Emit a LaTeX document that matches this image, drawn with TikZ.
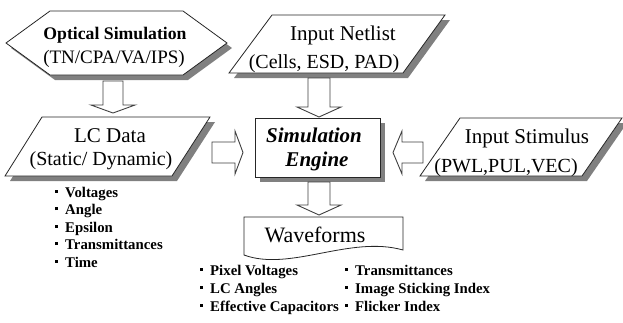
\documentclass[tikz,border=0pt]{standalone}
\usepackage{fontspec}
\setmainfont{Liberation Serif}
\usetikzlibrary{shadows}
\newcommand\sqbul{\rule[0.3em]{3pt}{3pt}\hspace{7pt}}
\newcommand\dnarrow[5]{%
  \draw[blockarrow] (#1-#5,#2) -- (#1+#5,#2) -- (#1+#5,#3) -- (#1+22,#3) -- (#1,#4) -- (#1-22,#3) -- (#1-#5,#3) -- cycle;}
\newcommand\sidearrow[5]{%
  \draw[blockarrow] (#2,#1-#5) -- (#3,#1-#5) -- (#3,#1-21.5) -- (#4,#1) -- (#3,#1+21.5) -- (#3,#1+#5) -- (#2,#1+#5) -- cycle;}
\begin{document}
\begin{tikzpicture}[x=1pt,y=-1pt,
  shapebox/.style={draw=black!85, line width=0.8pt, fill=white,
    drop shadow={shadow xshift=5pt, shadow yshift=-5pt, fill=black!50, opacity=1}},
  plainbox/.style={draw=black!85, line width=0.8pt, fill=white},
  blockarrow/.style={draw=black!75, line width=0.9pt, fill=white},
  maintext/.style={font=\fontsize{21}{21}\selectfont, anchor=base, inner sep=0pt},
  subtext/.style={font=\fontsize{20}{20}\selectfont, anchor=base, inner sep=0pt},
  boldtext/.style={font=\fontsize{17.7}{17.7}\selectfont\bfseries, anchor=base, inner sep=0pt},
  enginetext/.style={font=\fontsize{21}{21}\selectfont\bfseries\itshape, anchor=base, inner sep=0pt},
  itemtext/.style={font=\fontsize{14.8}{14.8}\selectfont\bfseries, anchor=base west, inner sep=0pt}]
\useasboundingbox[fill=white] (0,0) rectangle (623,322);

% Optical Simulation (hexagon)
\draw[shapebox] (6,43) -- (50,11) -- (183,11) -- (227,43) -- (183,75) -- (50,75) -- cycle;
\node[boldtext] (opt1) at (115,39) {Optical Simulation};
\node[subtext, font=\fontsize{19}{19}\selectfont] (opt2) at (114,63) {(TN/CPA/VA/IPS)};

% Input Netlist
\draw[shapebox] (272,15) -- (445,15) -- (403,73) -- (229,73) -- cycle;
\node[maintext] (net1) at (343,40) {Input Netlist};
\node[subtext] (net2) at (324,68) {(Cells, ESD, PAD)};

% LC Data
\draw[shapebox] (42,117) -- (210,117) -- (172,176) -- (5,176) -- cycle;
\node[maintext] (lc1) at (110,142) {LC Data};
\node[subtext] (lc2) at (101,165) {(Static/ Dynamic)};

% Simulation Engine
\draw[shapebox] (255,118) rectangle (380,177);
\node[enginetext] (eng1) at (314,142) {Simulation};
\node[enginetext] (eng2) at (317,166) {Engine};

% Input Stimulus
\draw[shapebox] (460,118) -- (622,118) -- (582,176) -- (420,176) -- cycle;
\node[maintext] (stim1) at (527,143) {Input Stimulus};
\node[subtext] (stim2) at (506,172) {(PWL,PUL,VEC)};

% Waveforms (document shape)
\draw[plainbox] (244,255) -- (244,217) -- (403,217) -- (403,250)
  .. controls (350,235) and (290,272) .. (244,255) -- cycle;
\node[maintext, font=\fontsize{22}{22}\selectfont] (wave) at (315,242) {Waveforms};

% Block arrows
\dnarrow{113}{81}{105}{113}{10}
\dnarrow{319}{78}{107}{117}{11}
\dnarrow{319}{182}{205}{215}{11}
\sidearrow{152.5}{212}{235}{243}{10.5}
\sidearrow{152.5}{423}{402}{393}{10.5}

% LC Data items
\node[itemtext] (li1) at (55,197) {\sqbul Voltages};
\node[itemtext] (li2) at (55,214.5) {\sqbul Angle};
\node[itemtext] (li3) at (55,232) {\sqbul Epsilon};
\node[itemtext] (li4) at (55,249.5) {\sqbul Transmittances};
\node[itemtext] (li5) at (55,267) {\sqbul Time};

% Waveform items
\node[itemtext] (wi1) at (200,275) {\sqbul Pixel Voltages};
\node[itemtext] (wi2) at (200,293) {\sqbul LC Angles};
\node[itemtext] (wi3) at (200,311) {\sqbul Effective Capacitors};
\node[itemtext] (wi4) at (345,275) {\sqbul Transmittances};
\node[itemtext] (wi5) at (345,293) {\sqbul Image Sticking Index};
\node[itemtext] (wi6) at (345,311) {\sqbul Flicker Index};
\end{tikzpicture}
\end{document}
